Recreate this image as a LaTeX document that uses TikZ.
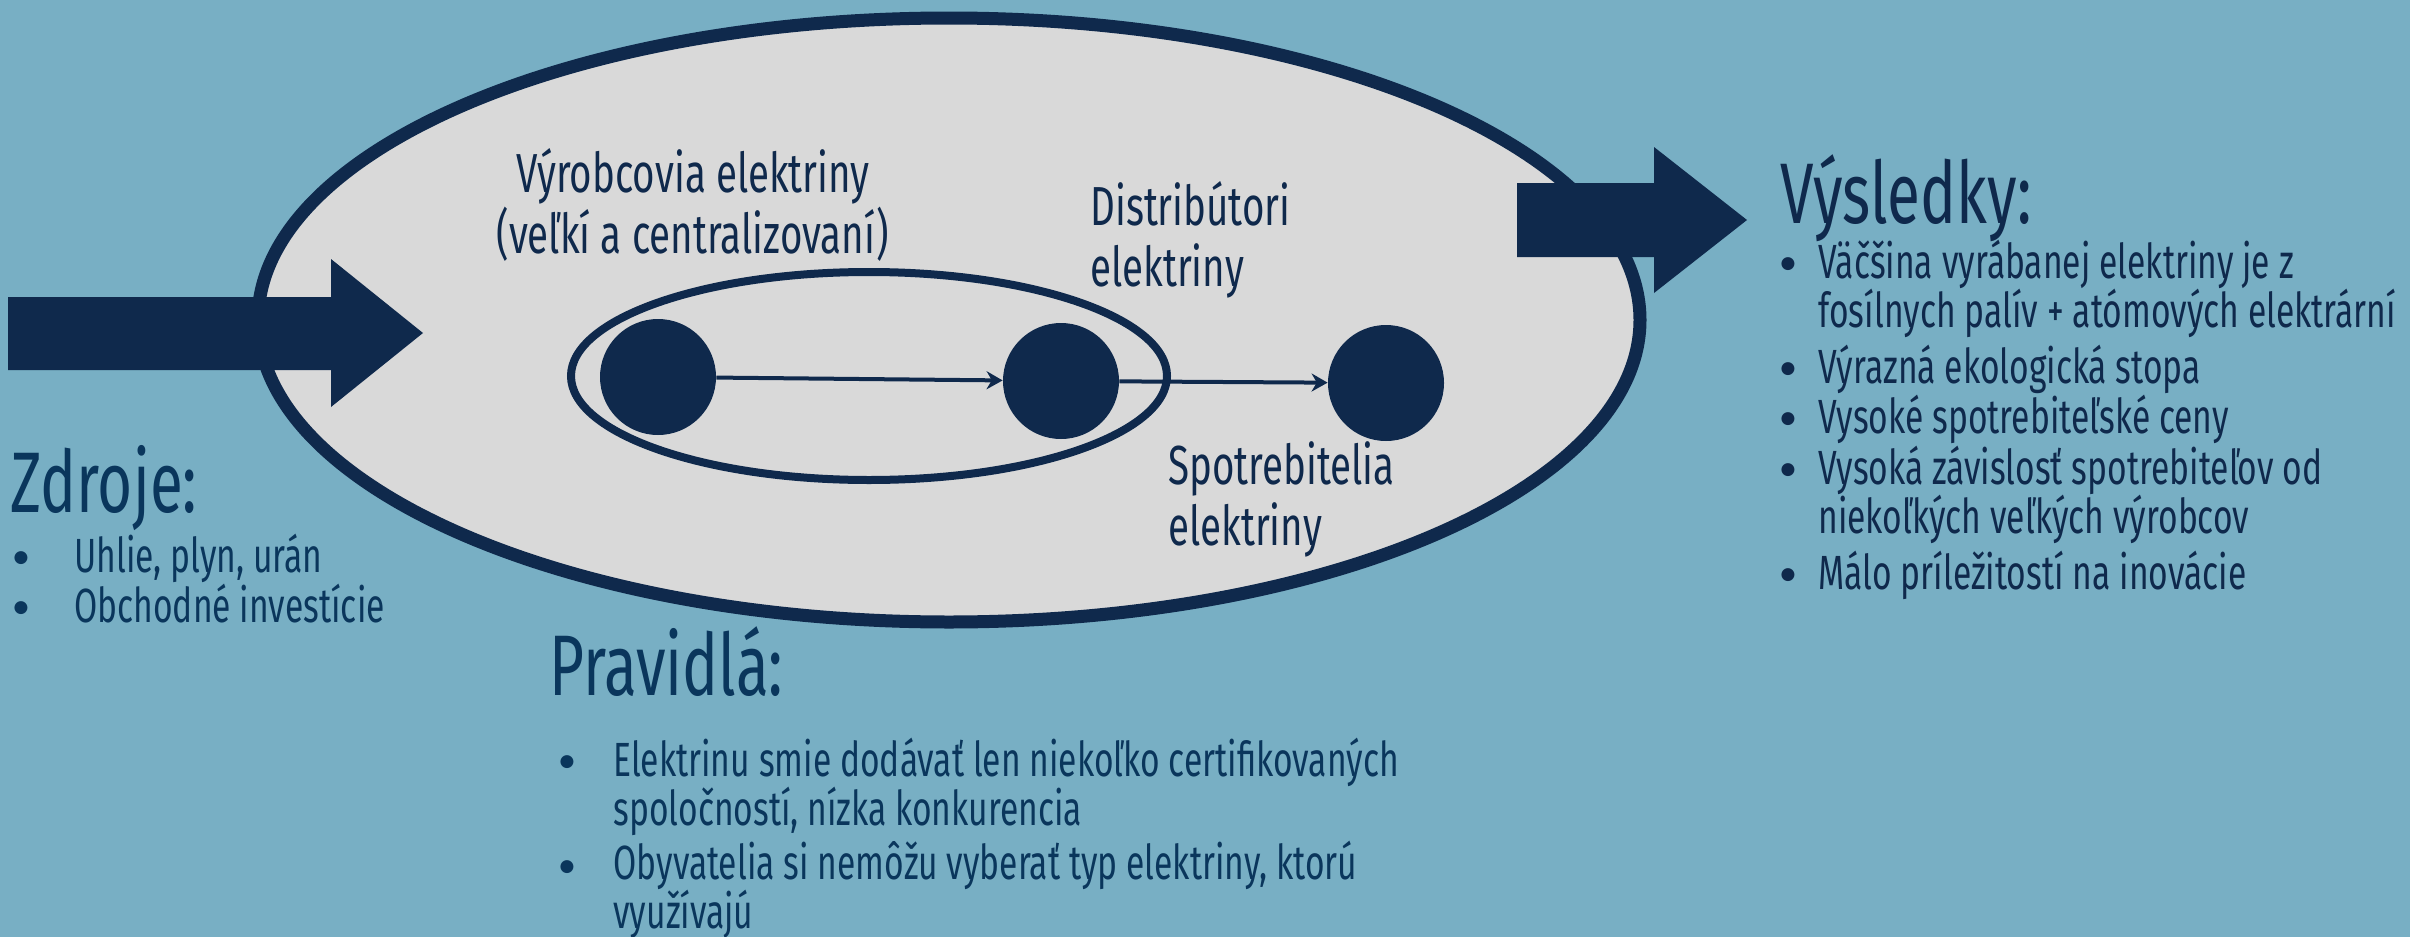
\documentclass[tikz,border=0pt]{standalone}
\usepackage{fontspec}
\setmainfont{Fira Sans}[FakeStretch=0.7]
\newfontfamily\dotfont{DejaVu Sans}
\usetikzlibrary{arrows.meta,shapes.geometric}
\definecolor{bgblue}{RGB}{120,175,196}
\definecolor{navy}{RGB}{15,41,76}
\definecolor{txtblue}{RGB}{10,54,92}
\definecolor{lightgrey}{RGB}{217,217,217}
\begin{document}
\begin{tikzpicture}[x=0.5pt,y=-0.5pt,
  bodytext/.style={font=\fontsize{24}{24.5}\selectfont, text=txtblue, inner sep=0pt, align=left, anchor=base west},
  bulletmark/.style={font=\dotfont\fontsize{8.5}{8.5}\selectfont, text=txtblue, inner sep=0pt, anchor=center},
  labeltext/.style={font=\fontsize{27.5}{30.5}\selectfont, text=navy, inner sep=0pt},
  titletext/.style={font=\fontsize{43}{45}\selectfont, text=txtblue, inner sep=0pt, anchor=base west},
  dotnode/.style={circle, fill=navy, minimum size=58pt, inner sep=0pt},
  flow/.style={draw=navy, line width=2pt, -{Stealth[length=8pt,width=9pt]}},
  bigarrow/.style={fill=navy}]
\fill[bgblue] (0,0) rectangle (2410,937);
\useasboundingbox (0,0) rectangle (2410,937);

% big ellipse
\node[ellipse, draw=navy, fill=lightgrey, line width=6.5pt, minimum width=691pt, minimum height=302pt, inner sep=0pt] (big) at (949,320) {};

% arrows
\fill[bigarrow] (8,297) -- (331,297) -- (331,259) -- (423,333) -- (331,407) -- (331,370) -- (8,370) -- cycle;
\fill[bigarrow] (1517,183) -- (1654,183) -- (1654,147) -- (1747,220) -- (1654,293) -- (1654,257) -- (1517,257) -- cycle;

% inner ellipse
\node[ellipse, draw=navy, line width=4pt, minimum width=298pt, minimum height=104pt, inner sep=0pt] (inner) at (869,376) {};

% circles
\node[dotnode] (c1) at (658,377) {};
\node[dotnode] (c2) at (1061,381) {};
\node[dotnode] (c3) at (1386,383) {};
\draw[flow] (c1) -- (c2);
\draw[flow] (c2) -- (c3);

% labels (base = baseline of last line)
\node[labeltext, align=center, anchor=base] (vyr) at (693,253) {Výrobcovia elektriny\\(veľkí a centralizovaní)};
\node[labeltext, align=left, anchor=base west] (dis) at (1090,286) {Distribútori\\elektriny};
\node[labeltext, align=left, anchor=base west] (spo) at (1168,545) {Spotrebitelia\\elektriny};

% Zdroje
\node[titletext] (zdr) at (10,512) {Zdroje:};
\node[bulletmark] (zb1) at (21,558) {●};
\node[bodytext] (zt1) at (74,572) {Uhlie, plyn, urán};
\node[bulletmark] (zb2) at (21,608) {●};
\node[bodytext] (zt2) at (74,622) {Obchodné investície};

% Pravidla
\node[titletext] (pra) at (549,695) {Pravidlá:};
\node[bulletmark] (pb1) at (567,762) {●};
\node[bodytext] (pt1) at (613,825) {Elektrinu smie dodávať len niekoľko certifikovaných\\spoločností, nízka konkurencia};
\node[bulletmark] (pb2) at (567,867) {●};
\node[bodytext] (pt2) at (613,928) {Obyvatelia si nemôžu vyberať typ elektriny, ktorú\\využívajú};

% Vysledky
\node[titletext, text=navy] (vys) at (1780,223) {Výsledky:};
\node[bulletmark, text=navy] (vb1) at (1788,264) {●};
\node[bodytext, text=navy] (vt1) at (1818,327) {Väčšina vyrábanej elektriny je z\\fosílnych palív + atómových elektrární};
\node[bulletmark, text=navy] (vb2) at (1788,369) {●};
\node[bodytext, text=navy] (vt2) at (1818,383) {Výrazná ekologická stopa};
\node[bulletmark, text=navy] (vb3) at (1788,419) {●};
\node[bodytext, text=navy] (vt3) at (1818,433) {Vysoké spotrebiteľské ceny};
\node[bulletmark, text=navy] (vb4) at (1788,470) {●};
\node[bodytext, text=navy] (vt4) at (1818,533) {Vysoká závislosť spotrebiteľov od\\niekoľkých veľkých výrobcov};
\node[bulletmark, text=navy] (vb5) at (1788,575) {●};
\node[bodytext, text=navy] (vt5) at (1818,589) {Málo príležitostí na inovácie};
\end{tikzpicture}
\end{document}
